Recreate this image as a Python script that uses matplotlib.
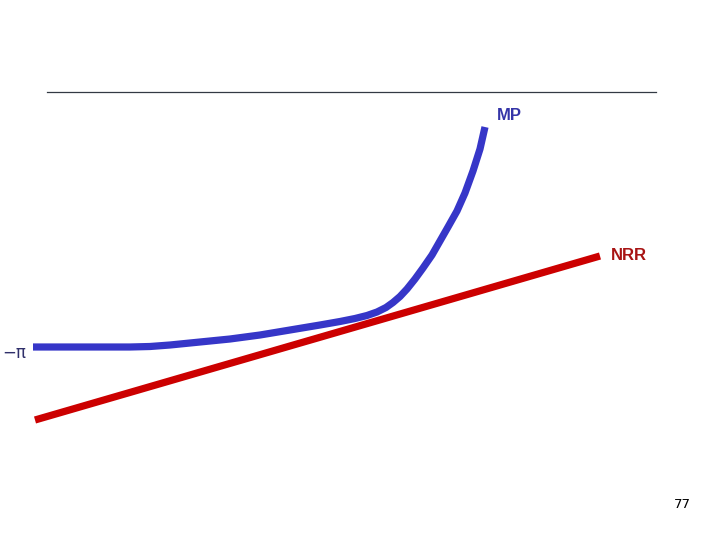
import matplotlib.pyplot as plt

# MP curve (pixel coordinates, y from top)
mp_x = [33, 60, 100, 130, 150, 170, 190, 210, 230, 260, 290, 320, 340, 355, 367, 377,
        386, 393, 400, 407, 415, 423, 432, 440, 448, 457, 465, 473, 480, 485]
mp_y = [347, 347, 347, 347, 346.5, 345, 343, 341, 339, 335, 330, 325, 321.5, 318.5, 315.5, 312,
        307.5, 302.5, 296.5, 289, 279, 268, 255, 241, 227, 211, 193, 171, 149, 127]

# NRR line
nrr_x = [35, 600]
nrr_y = [420, 256]

fig = plt.figure(figsize=(7.2, 5.4), dpi=100)
ax = fig.add_axes([0, 0, 1, 1])
ax.set_xlim(0, 720)
ax.set_ylim(540, 0)
ax.axis("off")

# rule under the (empty) title area
ax.plot([47, 656], [92, 92], color="#333a44", linewidth=0.9)

ax.plot(nrr_x, nrr_y, color="#cc0000", linewidth=5.2, solid_capstyle="butt")
ax.plot(mp_x, mp_y, color="#3636c8", linewidth=5.2, solid_capstyle="butt",
        solid_joinstyle="round")

ax.text(497, 116, "MP", color="#3535a8", fontsize=12, fontweight="bold",
        fontfamily="Liberation Sans", va="center", ha="left")
ax.text(611, 255, "NRR", color="#a81414", fontsize=12, fontweight="bold",
        fontfamily="Liberation Sans", va="center", ha="left")
ax.text(2, 353, "−π", color="#2f2f6a", fontsize=12,
        fontfamily="DejaVu Sans", va="center", ha="left")
ax.text(682, 505, "77", color="black", fontsize=9.5,
        fontfamily="DejaVu Sans", va="center", ha="center")

fig.savefig("out.png", dpi=100)
